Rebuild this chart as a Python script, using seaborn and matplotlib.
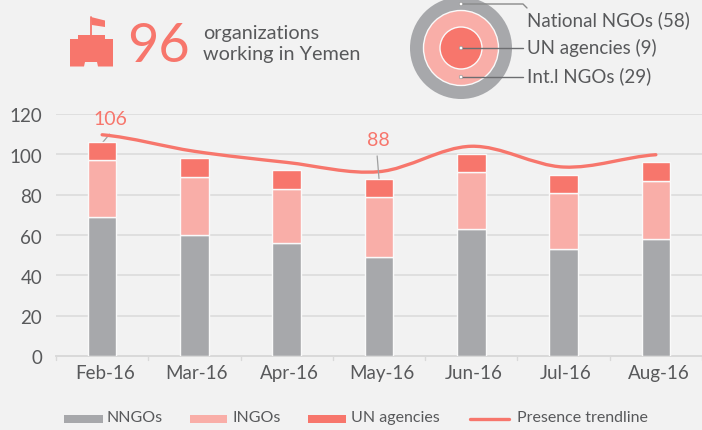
import matplotlib
matplotlib.use('Agg')
import matplotlib.pyplot as plt
import seaborn as sns
import pandas as pd
from matplotlib.path import Path
from matplotlib.patches import PathPatch, Circle, Polygon, Rectangle
from matplotlib.transforms import ScaledTranslation

months = ['Feb-16', 'Mar-16', 'Apr-16', 'May-16', 'Jun-16', 'Jul-16', 'Aug-16']
nngos = [69, 60, 56, 49, 63, 53, 58]
ingos = [28, 29, 27, 30, 28, 28, 29]
un_agencies = [9, 9, 9, 9, 9, 9, 9]
trend = [109.7, 101.5, 96, 91.4, 104, 93.7, 99.8]

GREY = '#a7a8ab'
PINK = '#f9aea8'
RED = '#f7766c'
TEXT = '#58595b'
BG = '#f2f2f2'

sns.set_theme(style='white')
plt.rcParams['font.family'] = ['Lato', 'DejaVu Sans']
plt.rcParams['text.color'] = TEXT

df = pd.DataFrame({'month': months, 'nngos': nngos, 'ingos': ingos, 'un': un_agencies})
df['ingos_bottom'] = df['nngos']
df['un_bottom'] = df['nngos'] + df['ingos']

fig = plt.figure(figsize=(7.02, 4.30), dpi=100, facecolor=BG)
ax = fig.add_axes([56 / 702, 74 / 430, 646 / 702, 242 / 430], facecolor=BG)

# stacked bars, one seaborn call per layer
bar_kw = dict(x='month', width=0.31, edgecolor='#fafafa', linewidth=1, ax=ax, zorder=3)
sns.barplot(data=df, y='nngos', color=GREY, saturation=1, **bar_kw)
sns.barplot(data=df, y='ingos', bottom=df['ingos_bottom'], color=PINK, saturation=1, **bar_kw)
sns.barplot(data=df, y='un', bottom=df['un_bottom'], color=RED, saturation=1, **bar_kw)

ax.set_xlim(-0.5, 6.5)
ax.set_ylim(0, 120)
ax.set_xlabel('')
ax.set_ylabel('')
ax.set_yticks(range(0, 121, 20))
ax.yaxis.grid(True, color='#dfdfdf', lw=1.4)
ax.set_axisbelow(True)
for s in ['top', 'right', 'left']:
    ax.spines[s].set_visible(False)
ax.spines['bottom'].set_color('#d9d9d9')
ax.spines['bottom'].set_linewidth(1.4)
ax.tick_params(axis='y', length=0, labelsize=13.5, labelcolor=TEXT, pad=10)
ax.tick_params(axis='x', length=0, labelsize=13.5, labelcolor=TEXT, pad=6.5)
# month labels sit a little right of the bars in the original, y labels a little lower
for lab in ax.get_xticklabels():
    lab.set_transform(lab.get_transform() + ScaledTranslation(2.5 / 100, 0, fig.dpi_scale_trans))
for lab in ax.get_yticklabels():
    lab.set_transform(lab.get_transform() + ScaledTranslation(0, -1.5 / 100, fig.dpi_scale_trans))
# tick marks sit between the categories
for i in range(8):
    ax.plot([i - 0.5, i - 0.5], [0, -2], color='#d9d9d9', lw=1, clip_on=False)

# smooth trendline through the monthly values (same bezier idea as a smoothed excel line)
verts = [(0, trend[0])]
codes = [Path.MOVETO]
for i in range(len(trend) - 1):
    p0 = trend[max(i - 1, 0)]
    p1 = trend[i]
    p2 = trend[i + 1]
    p3 = trend[min(i + 2, len(trend) - 1)]
    verts += [(i + 1 / 3, p1 + (p2 - p0) / 6), (i + 2 / 3, p2 - (p3 - p1) / 6), (i + 1, p2)]
    codes += [Path.CURVE4] * 3
ax.add_patch(PathPatch(Path(verts, codes), fill=False, edgecolor=RED, lw=2.4, zorder=4, capstyle='round'))

# value callouts
ax.plot([0, 0.08], [105.6, 110], color='#a0a0a0', lw=0.9, zorder=2)
ax.text(0.087, 117.5, '106', color=RED, fontsize=14, ha='center', va='center')
ax.plot([3.0, 2.98], [88, 99.2], color='#a0a0a0', lw=0.9, zorder=5)
ax.text(2.99, 106.8, '88', color=RED, fontsize=14, ha='center', va='center')

# header and legend drawn in pixel coordinates
top = fig.add_axes([0, 0, 1, 1], facecolor='none')
top.set_xlim(0, 702)
top.set_ylim(430, 0)
top.axis('off')

castle = [(70, 66.5), (70, 39), (78, 39), (78, 35), (105, 35), (105, 39), (113, 39), (113, 66.5),
          (98, 66.5), (97, 62), (85, 62), (84, 66.5)]
top.add_patch(Polygon(castle, closed=True, color=RED, lw=0))
top.plot([91, 91], [17, 35], color=RED, lw=1.3)
top.add_patch(Polygon([(91, 17), (105, 20.5), (105, 27), (92, 25)], closed=True, color=RED, lw=0))
top.text(158, 47, '96', color=RED, fontsize=39, ha='center', va='center')
top.text(203, 33.5, 'organizations', fontsize=14.3, color=TEXT, va='center')
top.text(203, 54.5, 'working in Yemen', fontsize=14.3, color=TEXT, va='center')

cx, cy = 461, 48
top.add_patch(Circle((cx, cy), 51, color=GREY, lw=0))
top.add_patch(Circle((cx, cy), 37.5, facecolor=PINK, edgecolor='#fafafa', lw=1))
top.add_patch(Circle((cx, cy), 21, facecolor=RED, edgecolor='#fafafa', lw=1))
top.plot([cx, 523, 527], [4, 4, 8], color='#8a8a8a', lw=1)
top.plot([cx, 523], [48, 48], color='#6d6e71', lw=1)
top.plot([cx, 523], [77, 77], color='#6d6e71', lw=1)
for y in [4, 48, 77]:
    top.add_patch(Circle((cx, y), 1.8, facecolor='white', edgecolor='#8a8a8a', lw=0.4, zorder=5))
top.text(527, 20, 'National NGOs (58)', fontsize=13.5, color=TEXT, va='center')
top.text(527, 48, 'UN agencies (9)', fontsize=13.5, color=TEXT, va='center')
top.text(527, 76, 'Int.l NGOs (29)', fontsize=13.5, color=TEXT, va='center')

# legend placed by hand so the gaps follow the original
for x0, x1, col in [(64, 103, GREY), (190, 227, PINK), (308, 346, RED)]:
    top.add_patch(Rectangle((x0, 415), x1 - x0, 8, color=col, lw=0))
top.plot([470, 509], [418.7, 418.7], color=RED, lw=2.4, solid_capstyle='round')
for x, label in [(107, 'NNGOs'), (232, 'INGOs'), (351, 'UN agencies'), (517, 'Presence trendline')]:
    top.text(x, 418, label, fontsize=11.5, color=TEXT, va='center')

fig.savefig('out.png', dpi=100, facecolor=BG)
